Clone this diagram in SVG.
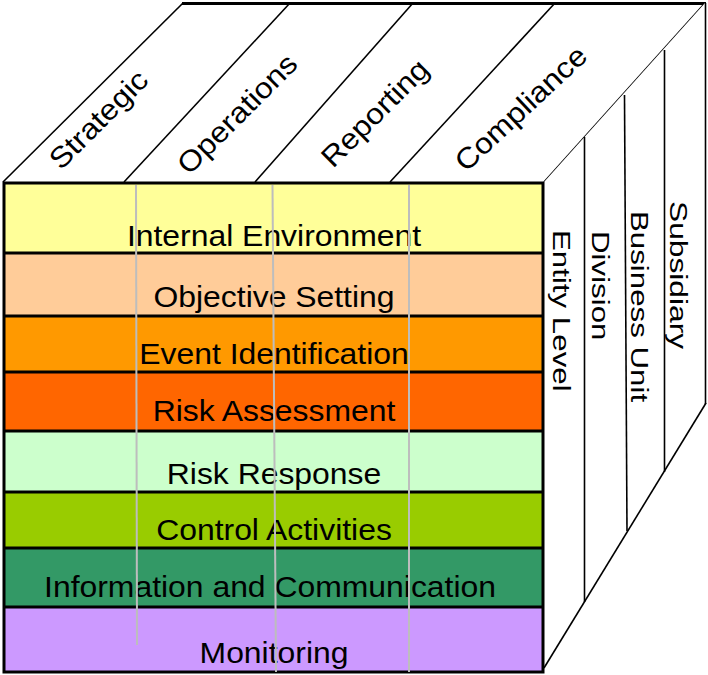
<svg xmlns="http://www.w3.org/2000/svg" width="708" height="675" viewBox="0 0 708 675">
  <style>
    text { font-family: "Liberation Sans", Arial, sans-serif; fill: #000; }
    .band-label { font-size: 29px; text-anchor: middle; }
    .top-label { font-size: 29px; }
    .side-label { font-size: 23px; }
    .edge { stroke: #000; stroke-width: 1.6; fill: none; }
    .heavy { stroke: #000; stroke-width: 3; fill: none; }
    .sep { stroke: #000; stroke-width: 3; }
    .grid { stroke: #BDBDBD; stroke-width: 2; }
  </style>

  <rect width="708" height="675" fill="#fff"/>

  <!-- top face: the four objective categories -->
  <g id="top-face">
    <polygon points="3,182 183,3 705,3 544,182" fill="#fff"/>
    <line class="edge" x1="3" y1="182" x2="183" y2="3"/>
    <line class="edge" x1="124" y1="182" x2="290" y2="3"/>
    <line class="edge" x1="255" y1="182" x2="413" y2="3"/>
    <line class="edge" x1="390" y1="182" x2="555" y2="3"/>
    <line class="edge" x1="544" y1="182" x2="705" y2="3"/>
    <line class="heavy" x1="182" y1="3.5" x2="706" y2="3.5"/>
    <text class="top-label" transform="translate(61,171) rotate(-45) scale(1.1,1)">Strategic</text>
    <text class="top-label" transform="translate(189,176) rotate(-45) scale(1.1,1)">Operations</text>
    <text class="top-label" transform="translate(333,169) rotate(-45) scale(1.1,1)">Reporting</text>
    <text class="top-label" transform="translate(466,173) rotate(-43) scale(1.1,1)">Compliance</text>
  </g>

  <!-- right face: organisational levels -->
  <g id="right-face">
    <polygon points="544,182 705,3 705,403 544,668" fill="#fff"/>
    <line class="edge" x1="705.5" y1="3" x2="705.5" y2="404" stroke-width="2"/>
    <line class="edge" x1="544" y1="668" x2="706" y2="403"/>
    <line class="edge" x1="584.5" y1="137" x2="584.5" y2="602"/>
    <line class="edge" x1="624.5" y1="95" x2="627" y2="531"/>
    <line class="edge" x1="664.5" y1="50" x2="664.5" y2="472"/>
    <text class="side-label" transform="translate(553,230) rotate(90) scale(1.36,1)">Entity Level</text>
    <text class="side-label" transform="translate(592,231) rotate(90) scale(1.36,1)">Division</text>
    <text class="side-label" transform="translate(631,211) rotate(90) scale(1.36,1)">Business Unit</text>
    <text class="side-label" transform="translate(670,201) rotate(90) scale(1.38,1)">Subsidiary</text>
  </g>

  <!-- front face: the eight components -->
  <g id="front-face">
    <g id="internal-environment">
      <rect x="4" y="183" width="539" height="70" fill="#FFFF99"/>
      <text class="band-label" transform="translate(274,246) scale(1.1,1)">Internal Environment</text>
    </g>
    <g id="objective-setting">
      <rect x="4" y="253" width="539" height="63" fill="#FFCC99"/>
      <text class="band-label" transform="translate(274,307) scale(1.1,1)">Objective Setting</text>
    </g>
    <g id="event-identification">
      <rect x="4" y="316" width="539" height="56" fill="#FF9900"/>
      <text class="band-label" transform="translate(274,364) scale(1.1,1)">Event Identification</text>
    </g>
    <g id="risk-assessment">
      <rect x="4" y="372" width="539" height="59" fill="#FF6600"/>
      <text class="band-label" transform="translate(274,421) scale(1.1,1)">Risk Assessment</text>
    </g>
    <g id="risk-response">
      <rect x="4" y="431" width="539" height="61" fill="#CCFFCC"/>
      <text class="band-label" transform="translate(274,484) scale(1.1,1)">Risk Response</text>
    </g>
    <g id="control-activities">
      <rect x="4" y="492" width="539" height="56" fill="#99CC00"/>
      <text class="band-label" transform="translate(274,540) scale(1.1,1)">Control Activities</text>
    </g>
    <g id="information-communication">
      <rect x="4" y="548" width="539" height="59" fill="#339966"/>
      <text class="band-label" transform="translate(270,597) scale(1.1,1)">Information and Communication</text>
    </g>
    <g id="monitoring">
      <rect x="4" y="607" width="539" height="65" fill="#CC99FF"/>
      <text class="band-label" transform="translate(274,663) scale(1.1,1)">Monitoring</text>
    </g>

    <!-- band separators and outline -->
    <line class="sep" x1="4" y1="253" x2="543" y2="253"/>
    <line class="sep" x1="4" y1="316" x2="543" y2="316"/>
    <line class="sep" x1="4" y1="372" x2="543" y2="372"/>
    <line class="sep" x1="4" y1="431" x2="543" y2="431"/>
    <line class="sep" x1="4" y1="492" x2="543" y2="492" stroke="#333" stroke-width="2"/>
    <line class="sep" x1="4" y1="548" x2="543" y2="548"/>
    <line class="sep" x1="4" y1="607" x2="543" y2="607"/>
    <rect class="heavy" x="4" y="183" width="539" height="489"/>

    <!-- faint column guides running down from the top face -->
    <line class="grid" x1="136" y1="185" x2="137" y2="645"/>
    <line class="grid" x1="272.5" y1="185" x2="276" y2="672"/>
    <line class="grid" x1="409" y1="185" x2="409" y2="672"/>
  </g>
</svg>
